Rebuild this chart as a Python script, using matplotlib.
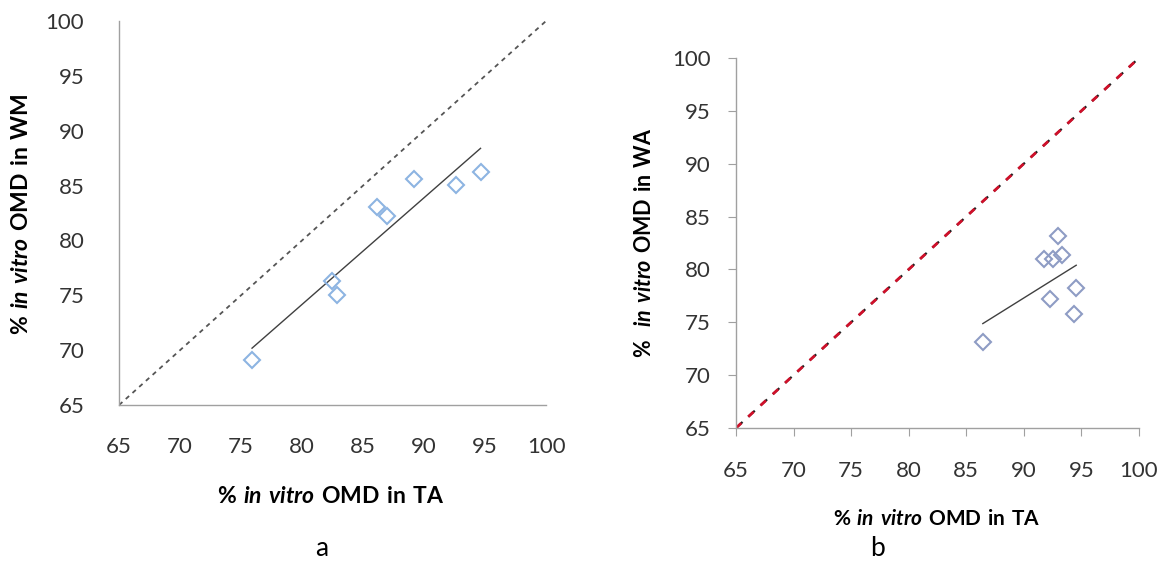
import numpy as np
import matplotlib
matplotlib.use("Agg")
import matplotlib.pyplot as plt

plt.rcParams["font.family"] = ["Lato", "DejaVu Sans"]
plt.rcParams["mathtext.fontset"] = "custom"
plt.rcParams["mathtext.rm"] = "Lato"
plt.rcParams["mathtext.bf"] = "Lato:bold"
plt.rcParams["mathtext.bfit"] = "Lato:italic:bold"

# panel a: TA vs WM
ta_a = [75.9, 82.45, 82.86, 86.15, 86.97, 89.14, 92.6, 94.63]
wm_a = [69.1, 76.28, 75.07, 83.04, 82.22, 85.64, 85.08, 86.22]

# panel b: TA vs WA
ta_b = [86.44, 91.73, 92.57, 92.96, 93.28, 92.28, 94.55, 94.32]
wa_b = [73.09, 81.01, 80.94, 83.2, 81.33, 77.16, 78.22, 75.78]

ticks = [65, 70, 75, 80, 85, 90, 95, 100]
lim = [65, 100]

fig = plt.figure(figsize=(11.66, 5.61), dpi=100)
ax1 = fig.add_axes([0.1021, 0.278, 0.3662, 0.6846])
ax2 = fig.add_axes([0.6312, 0.2371, 0.3456, 0.6595])

xlab = r"$\mathbf{\%\ }\mathbfit{in\ vitro}\mathbf{\ OMD\ in\ TA}$"

def trend(ax, x, y):
    k, b = np.polyfit(x, y, 1)
    xx = np.array([min(x), max(x)])
    ax.plot(xx, k * xx + b, color="#404040", lw=1.0, zorder=2)

# a
ax1.plot(lim, lim, color="#555555", lw=1.3, dashes=(2.5, 2.5), zorder=1)
trend(ax1, ta_a, wm_a)
ax1.plot(ta_a, wm_a, "D", ms=8, mfc="none", mec="#8DB4E2", mew=1.5, zorder=3)
ax1.tick_params(length=0, labelsize=16, labelcolor="#333333")
ax1.tick_params(axis="x", pad=23)
ax1.tick_params(axis="y", pad=25)
ax1.set_ylabel(r"$\mathbf{\%\ }\mathbfit{in\ vitro}\mathbf{\ OMD\ in\ WM}$", fontsize=16.5)
ax1.set_xlabel(xlab, fontsize=16.5)
ax1.yaxis.set_label_coords(-0.2295, 0.497)
ax1.xaxis.set_label_coords(0.496, -0.237)

# b
ax2.plot(lim, lim, color="#222222", lw=1.6, linestyle=(0, (4.0, 3.5)), zorder=1)
ax2.plot(lim, lim, color="#D0102A", lw=2.0, linestyle=(0, (2.6, 3.4)), zorder=1)
trend(ax2, ta_b, wa_b)
ax2.plot(ta_b, wa_b, "D", ms=8, mfc="none", mec="#8E9CC4", mew=1.5, zorder=3)
ax2.tick_params(direction="out", length=6, color="#A0A0A0", labelsize=16, labelcolor="#333333")
ax2.tick_params(axis="x", pad=18)
ax2.tick_params(axis="y", pad=12)
ax2.set_ylabel(r"$\mathbf{\%\ \ }\mathbfit{in\ vitro}\mathbf{\ OMD\ in\ WA}$", fontsize=15.5)
ax2.set_xlabel(xlab, fontsize=15)
ax2.yaxis.set_label_coords(-0.226, 0.5)
ax2.xaxis.set_label_coords(0.4988, -0.246)

for ax in (ax1, ax2):
    ax.set_xlim(lim)
    ax.set_ylim(lim)
    ax.set_xticks(ticks)
    ax.set_yticks(ticks)
    ax.xaxis.label.set_va("center")
    ax.yaxis.label.set_va("center")
    for s in ("top", "right"):
        ax.spines[s].set_visible(False)
    for s in ("left", "bottom"):
        ax.spines[s].set_color("#A0A0A0")
        ax.spines[s].set_linewidth(1.0)
    for t in ax.get_xticklabels() + ax.get_yticklabels():
        t.set_clip_on(False)

fig.text(322 / 1166, 1 - 548 / 561, "a", fontsize=19, ha="center", va="center")
fig.text(878 / 1166, 1 - 548 / 561, "b", fontsize=19, ha="center", va="center")

fig.savefig("out.png", dpi=100)
